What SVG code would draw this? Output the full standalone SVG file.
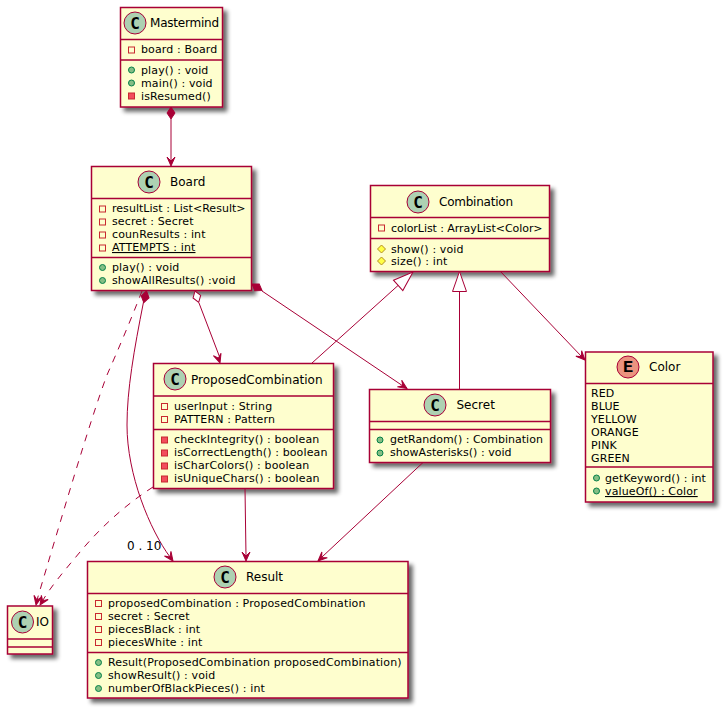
<svg xmlns="http://www.w3.org/2000/svg" width="725" height="711" viewBox="0 0 725 711">
  <style>
    text { font-family: "DejaVu Sans", sans-serif; fill: #000; }
    .box { fill: #FEFECE; stroke: #A80036; stroke-width: 1.5; filter: url(#shadow); }
    .sep { stroke: #A80036; stroke-width: 1.5; fill: none; }
    .name { font-size: 12px; }
    .m { font-size: 11px; letter-spacing: 0.125px; }
    .u { text-decoration: underline; }
    .spot { stroke: #A80036; stroke-width: 1; }
    .cls { fill: #ADD1B2; }
    .enm { fill: #EB937F; }
    .glyph { font-family: "DejaVu Sans Mono", monospace; font-size: 16px; font-weight: bold; text-anchor: middle; }
    .glyphE { font-family: "Liberation Mono", monospace; font-size: 17px; font-weight: bold; text-anchor: middle; }
    .fpriv { fill: none; stroke: #C82930; stroke-width: 1; }
    .mpriv { fill: #F24D5C; stroke: #C82930; stroke-width: 1; }
    .mpub { fill: #84BE84; stroke: #038048; stroke-width: 1; }
    .mprot { fill: #FFFF44; stroke: #B38D22; stroke-width: 1; }
    .link { fill: none; stroke: #A80036; stroke-width: 1; }
    .dash { stroke-dasharray: 7 7; }
    .head { fill: #A80036; stroke: #A80036; stroke-width: 1; }
    .tri { fill: #FFFFFF; stroke: #A80036; stroke-width: 1; }
  </style>
  <defs>
    <filter id="shadow" x="-20%" y="-20%" width="150%" height="150%">
      <feGaussianBlur in="SourceAlpha" stdDeviation="2"/>
      <feOffset dx="4" dy="4"/>
      <feComponentTransfer><feFuncA type="linear" slope="0.6"/></feComponentTransfer>
      <feMerge><feMergeNode/><feMergeNode in="SourceGraphic"/></feMerge>
    </filter>
    <!-- Each end shape sits at the origin and extends along +x -->
    <path id="arrow" d="M0,0 L9,-4 L5,0 L9,4 Z" class="head"/>
    <path id="solid" d="M0,0 L6,-4 L12,0 L6,4 Z" class="head"/>
    <path id="hollow" d="M0,0 L6,-4 L12,0 L6,4 Z" class="tri"/>
    <path id="triangle" d="M0,0 L20,-7 L20,7 Z" class="tri"/>
    <rect id="fp" x="-3" y="-3" width="6" height="6" class="fpriv"/>
    <rect id="mp" x="-3" y="-3" width="6" height="6" class="mpriv"/>
    <circle id="pub" r="3" class="mpub"/>
    <path id="prot" d="M0,-4 L4,0 L0,4 L-4,0 Z" class="mprot"/>
  </defs>

  <g id="node-mastermind">
    <rect class="box" x="120.500" y="7.500" width="102" height="99.500"/>
    <circle class="spot cls" cx="135" cy="23" r="11"/>
    <text class="glyph" x="135" y="28.500">C</text>
    <text class="name" x="150" y="27" textLength="69">Mastermind</text>
    <path class="sep" d="M120.500,39.500H222.500M120.500,60H222.500"/>
    <use href="#fp" x="131.500" y="50"/>
    <text class="m" x="141" y="53">board : Board</text>
    <use href="#pub" x="131.500" y="70"/>
    <text class="m" x="141" y="74">play() : void</text>
    <use href="#pub" x="131.500" y="83"/>
    <text class="m" x="141" y="87">main() : void</text>
    <use href="#mp" x="131.500" y="96"/>
    <text class="m" x="141" y="100">isResumed()</text>
  </g>

  <g id="node-board">
    <rect class="box" x="91.500" y="166.500" width="160" height="124"/>
    <circle class="spot cls" cx="149" cy="182" r="11"/>
    <text class="glyph" x="149" y="187.500">C</text>
    <text class="name" x="170" y="186">Board</text>
    <path class="sep" d="M91.500,198.500H251.500M91.500,257.500H251.500"/>
    <use href="#fp" x="102.500" y="209"/>
    <text class="m" x="112" y="212" textLength="133.700">resultList : List&lt;Result&gt;</text>
    <use href="#fp" x="102.500" y="222"/>
    <text class="m" x="112" y="225">secret : Secret</text>
    <use href="#fp" x="102.500" y="235"/>
    <text class="m" x="112" y="238">counResults : int</text>
    <use href="#fp" x="102.500" y="248"/>
    <text class="m u" x="112" y="251">ATTEMPTS : int</text>
    <use href="#pub" x="102.500" y="267.500"/>
    <text class="m" x="112" y="271">play() : void</text>
    <use href="#pub" x="102.500" y="280.500"/>
    <text class="m" x="112" y="284">showAllResults() :void</text>
  </g>

  <g id="node-combination">
    <rect class="box" x="370.500" y="185.500" width="179" height="86"/>
    <circle class="spot cls" cx="418" cy="202" r="11"/>
    <text class="glyph" x="418" y="207.500">C</text>
    <text class="name" x="439" y="206" textLength="74">Combination</text>
    <path class="sep" d="M370.500,217.500H549.500M370.500,238.500H549.500"/>
    <use href="#fp" x="381.500" y="228"/>
    <text class="m" x="391" y="232" textLength="151.700">colorList : ArrayList&lt;Color&gt;</text>
    <use href="#prot" x="381.500" y="249"/>
    <text class="m" x="391" y="253">show() : void</text>
    <use href="#prot" x="381.500" y="261"/>
    <text class="m" x="391" y="265">size() : int</text>
  </g>

  <g id="node-proposed-combination">
    <rect class="box" x="153.500" y="363.500" width="180" height="125"/>
    <circle class="spot cls" cx="175" cy="379" r="11"/>
    <text class="glyph" x="175" y="384.500">C</text>
    <text class="name" x="191" y="384">ProposedCombination</text>
    <path class="sep" d="M153.500,396H333.500M153.500,429.500H333.500"/>
    <use href="#fp" x="164.500" y="406.500"/>
    <text class="m" x="174" y="410">userInput : String</text>
    <use href="#fp" x="164.500" y="419.500"/>
    <text class="m" x="174" y="423">PATTERN : Pattern</text>
    <use href="#mp" x="164.500" y="440"/>
    <text class="m" x="174" y="443">checkIntegrity() : boolean</text>
    <use href="#mp" x="164.500" y="453"/>
    <text class="m" x="174" y="456">isCorrectLength() : boolean</text>
    <use href="#mp" x="164.500" y="466"/>
    <text class="m" x="174" y="469">isCharColors() : boolean</text>
    <use href="#mp" x="164.500" y="479"/>
    <text class="m" x="174" y="482">isUniqueChars() : boolean</text>
  </g>

  <g id="node-secret">
    <rect class="box" x="369.500" y="389.500" width="181" height="73"/>
    <circle class="spot cls" cx="435" cy="405" r="11"/>
    <text class="glyph" x="435" y="410.500">C</text>
    <text class="name" x="456.500" y="409">Secret</text>
    <path class="sep" d="M369.500,421.500H550.500M369.500,429.500H550.500"/>
    <use href="#pub" x="380" y="440"/>
    <text class="m" x="390" y="443" textLength="153">getRandom() : Combination</text>
    <use href="#pub" x="380" y="453"/>
    <text class="m" x="390" y="456" textLength="121.700">showAsterisks() : void</text>
  </g>

  <g id="node-color">
    <rect class="box" x="585.500" y="352" width="127.500" height="150"/>
    <circle class="spot enm" cx="628" cy="367" r="11"/>
    <text class="glyphE" x="628" y="372">E</text>
    <text class="name" x="649" y="371">Color</text>
    <path class="sep" d="M585.500,383.500H713M585.500,467H713"/>
    <text class="m" x="591" y="397">RED</text>
    <text class="m" x="591" y="410">BLUE</text>
    <text class="m" x="591" y="423">YELLOW</text>
    <text class="m" x="591" y="436">ORANGE</text>
    <text class="m" x="591" y="449">PINK</text>
    <text class="m" x="591" y="462">GREEN</text>
    <use href="#pub" x="596.500" y="478"/>
    <text class="m" x="605" y="482">getKeyword() : int</text>
    <use href="#pub" x="596.500" y="491"/>
    <text class="m u" x="605" y="495">valueOf() : Color</text>
  </g>

  <g id="node-io">
    <rect class="box" x="7.500" y="606" width="45" height="48"/>
    <circle class="spot cls" cx="22.500" cy="622" r="11"/>
    <text class="glyph" x="22.500" y="627.500">C</text>
    <text class="name" x="36" y="626">IO</text>
    <path class="sep" d="M7.500,639H52.500M7.500,647H52.500"/>
  </g>

  <g id="node-result">
    <rect class="box" x="87.500" y="561.500" width="320.500" height="136.500"/>
    <circle class="spot cls" cx="225" cy="577" r="11"/>
    <text class="glyph" x="225" y="582.500">C</text>
    <text class="name" x="246" y="581">Result</text>
    <path class="sep" d="M87.500,593.500H408M87.500,652.500H408"/>
    <use href="#fp" x="98.500" y="603.500"/>
    <text class="m" x="108" y="607">proposedCombination : ProposedCombination</text>
    <use href="#fp" x="98.500" y="616.500"/>
    <text class="m" x="108" y="620">secret : Secret</text>
    <use href="#fp" x="98.500" y="629.500"/>
    <text class="m" x="108" y="633">piecesBlack : int</text>
    <use href="#fp" x="98.500" y="642.500"/>
    <text class="m" x="108" y="646">piecesWhite : int</text>
    <use href="#pub" x="98.500" y="662.500"/>
    <text class="m" x="108" y="666">Result(ProposedCombination proposedCombination)</text>
    <use href="#pub" x="98.500" y="675.500"/>
    <text class="m" x="108" y="679">showResult() : void</text>
    <use href="#pub" x="98.500" y="688.500"/>
    <text class="m" x="108" y="692">numberOfBlackPieces() : int</text>
  </g>

  <g id="connectors">
    <!-- Mastermind to Board -->
    <path class="link" d="M171,119V161"/>
    <use href="#solid" transform="translate(171,107) rotate(90)"/>
    <use href="#arrow" transform="translate(171,166) rotate(-90)"/>

    <!-- Board to ProposedCombination -->
    <path class="link" d="M199,303L220,358"/>
    <use href="#hollow" transform="translate(195,291) rotate(72)"/>
    <use href="#arrow" transform="translate(220,363) rotate(-108)"/>

    <!-- Board to Secret -->
    <path class="link" d="M262,291L403,386"/>
    <use href="#solid" transform="translate(252,284) rotate(33.500)"/>
    <use href="#arrow" transform="translate(407,388.500) rotate(-146.500)"/>

    <!-- Board to Result, with multiplicity -->
    <path class="link" d="M143.500,302C134,350 127,390 127,425C127,475 150,530 170,557"/>
    <use href="#solid" transform="translate(146.500,291) rotate(103)"/>
    <use href="#arrow" transform="translate(173,561) rotate(-126)"/>
    <text x="127" y="550" font-size="12">0 . 10</text>

    <!-- Board to IO, dependency -->
    <path class="link dash" d="M142,291C130,322 118,350 107,375C90,420 58,530 37,600"/>
    <use href="#arrow" transform="translate(36,605) rotate(-78)"/>

    <!-- ProposedCombination to IO, dependency -->
    <path class="link dash" d="M153,487C125,505 100,528 80,552C65,570 52,585 43,600"/>
    <use href="#arrow" transform="translate(40,605) rotate(-58)"/>

    <!-- ProposedCombination to Result -->
    <path class="link" d="M245,488L246,556"/>
    <use href="#arrow" transform="translate(246,561) rotate(-90)"/>

    <!-- Secret to Result -->
    <path class="link" d="M423,462.500L322,557"/>
    <use href="#arrow" transform="translate(318,561) rotate(-43)"/>

    <!-- Inheritance from Combination -->
    <path class="link" d="M398,285.500L312,363"/>
    <use href="#triangle" transform="translate(413,272) rotate(138)"/>
    <path class="link" d="M459.500,291.500V389.500"/>
    <use href="#triangle" transform="translate(459.500,271.500) rotate(90)"/>

    <!-- Combination to Color -->
    <path class="link" d="M500,271L582,357"/>
    <use href="#arrow" transform="translate(585,360) rotate(-134)"/>
  </g>
</svg>
